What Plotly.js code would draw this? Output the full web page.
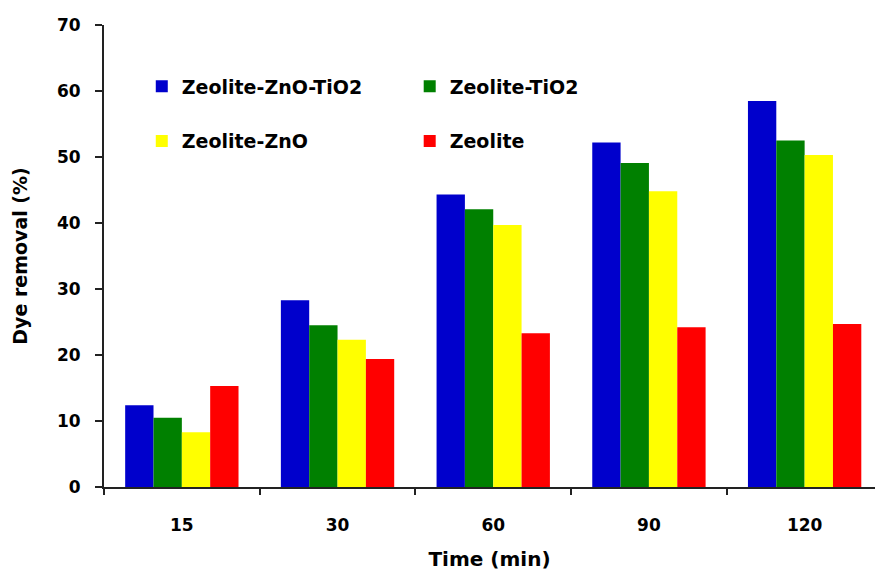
<!DOCTYPE html>
<html>
<head>
<meta charset="utf-8">
<script src="https://cdn.plot.ly/plotly-3.0.1.min.js"></script>
<style>html,body{margin:0;padding:0;overflow:hidden;background:#fff}#chart{width:875px;height:571px}</style>
</head>
<body>
<div id="chart"></div>
<script>
const times = ['15', '30', '60', '90', '120'];
const zeoliteZnOTiO2 = [12.4, 28.3, 44.3, 52.2, 58.5];
const zeoliteTiO2 = [10.5, 24.5, 42.1, 49.1, 52.5];
const zeoliteZnO = [8.3, 22.3, 39.7, 44.8, 50.3];
const zeolite = [15.3, 19.4, 23.3, 24.2, 24.7];
const yTicks = [0, 10, 20, 30, 40, 50, 60, 70];

const FONT = 'DejaVu Sans, Verdana, sans-serif';
function bar(name, y, color, legend, group) {
  return {type: 'bar', name: name, x: times, y: y, legend: legend, legendgroup: group,
    marker: {color: color, line: {width: 0}}, hoverinfo: 'x+y+name'};
}
const data = [
  bar('Zeolite-ZnO-TiO2', zeoliteZnOTiO2, '#0000CC', 'legend', 'a'),
  bar('Zeolite-TiO2', zeoliteTiO2, '#008000', 'legend2', 'b'),
  bar('Zeolite-ZnO', zeoliteZnO, '#FFFF00', 'legend', 'c'),
  bar('Zeolite', zeolite, '#FF0000', 'legend2', 'd')
];
const legendCommon = {orientation: 'v', bgcolor: 'rgba(0,0,0,0)', borderwidth: 0,
  font: {family: FONT, size: 19, color: '#000', weight: 'bold'}, tracegroupgap: 27,
  xanchor: 'left', yanchor: 'top', traceorder: 'grouped'};
const layout = {
  width: 875, height: 571,
  margin: {l: 104, r: 0, t: 25, b: 84},
  paper_bgcolor: '#fff', plot_bgcolor: '#fff',
  font: {family: FONT, color: '#000'},
  barmode: 'group', bargap: 0.272, bargroupgap: 0,
  showlegend: true,
  legend: Object.assign({}, legendCommon, {x: 0.049, y: 0.908}),
  legend2: Object.assign({}, legendCommon, {x: 0.3965, y: 0.908}),
  xaxis: {
    type: 'category', range: [-0.5, 4.452], tickson: 'boundaries',
    showline: true, linecolor: '#222', linewidth: 2, mirror: false,
    ticks: 'outside', ticklen: 6, tickwidth: 2, tickcolor: '#222',
    ticklabelstandoff: 22, showgrid: false, zeroline: false,
    tickfont: {family: FONT, size: 17, color: '#000', weight: 'bold'},
    title: {text: 'Time (min)', font: {family: FONT, size: 20, color: '#000', weight: 'bold'}, standoff: 24},
    automargin: false, fixedrange: true
  },
  yaxis: {
    range: [0, 70], tickvals: yTicks, ticktext: yTicks.map(String),
    showline: true, linecolor: '#222', linewidth: 2,
    ticks: 'outside', ticklen: 7, tickwidth: 2, tickcolor: '#222',
    ticklabelstandoff: 11, showgrid: false, zeroline: false,
    tickfont: {family: FONT, size: 17, color: '#000', weight: 'bold'},
    title: {text: 'Dye removal (%)', font: {family: FONT, size: 19, color: '#000', weight: 'bold'}, standoff: 24},
    automargin: false, fixedrange: true
  }
};
Plotly.newPlot('chart', data, layout, {displayModeBar: false, staticPlot: true});
</script>
</body>
</html>
